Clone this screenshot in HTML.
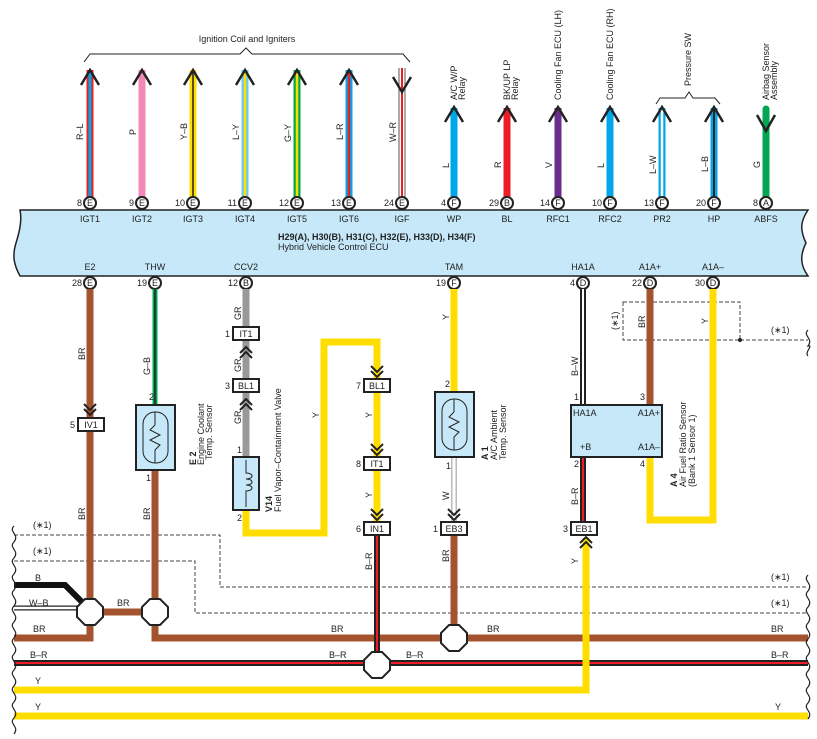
<!DOCTYPE html>
<html><head><meta charset="utf-8"><style>
body{margin:0;background:#fff}
svg{display:block;font-family:"Liberation Sans",sans-serif}
text{font-size:9px;fill:#222}
.b{font-weight:bold}
</style></head><body>
<svg width="817" height="739" viewBox="0 0 817 739" xmlns="http://www.w3.org/2000/svg">
<!-- top brace -->
<text x="247" y="42" text-anchor="middle">Ignition Coil and Igniters</text>
<path d="M84,62 L90,54 L240,54 L246,48 L252,54 L403,54 L410,62" fill="none" stroke="#222" stroke-width="1"/>
<!-- top wires -->
<g stroke-linecap="butt">
<line x1="90" y1="70" x2="90" y2="197" stroke="#ee1c25" stroke-width="7"/><line x1="90" y1="70" x2="90" y2="197" stroke="#00a6e8" stroke-width="3"/>
<line x1="142" y1="70" x2="142" y2="197" stroke="#f088b8" stroke-width="7"/>
<line x1="193" y1="70" x2="193" y2="197" stroke="#ffdd00" stroke-width="7"/><line x1="193" y1="70" x2="193" y2="197" stroke="#222" stroke-width="1.5"/>
<line x1="245" y1="70" x2="245" y2="197" stroke="#6cc8f0" stroke-width="7"/><line x1="245" y1="70" x2="245" y2="197" stroke="#ffdd00" stroke-width="2.5"/>
<line x1="297" y1="70" x2="297" y2="197" stroke="#00a651" stroke-width="7"/><line x1="297" y1="70" x2="297" y2="197" stroke="#ffdd00" stroke-width="2.5"/>
<line x1="349" y1="70" x2="349" y2="197" stroke="#00a6e8" stroke-width="7"/><line x1="349" y1="70" x2="349" y2="197" stroke="#ee1c25" stroke-width="2.5"/>
<line x1="402" y1="68" x2="402" y2="197" stroke="#555" stroke-width="7"/><line x1="402" y1="68" x2="402" y2="197" stroke="#fff" stroke-width="5"/><line x1="402" y1="68" x2="402" y2="197" stroke="#ee1c25" stroke-width="2"/>
<line x1="454" y1="108" x2="454" y2="197" stroke="#00a6e8" stroke-width="7"/>
<line x1="507" y1="108" x2="507" y2="197" stroke="#ee1c25" stroke-width="7"/>
<line x1="558" y1="108" x2="558" y2="197" stroke="#6a2d8f" stroke-width="7"/>
<line x1="610" y1="108" x2="610" y2="197" stroke="#00a6e8" stroke-width="7"/>
<line x1="662" y1="108" x2="662" y2="197" stroke="#00a6e8" stroke-width="7"/><line x1="662" y1="108" x2="662" y2="197" stroke="#fff" stroke-width="2.5"/>
<line x1="714" y1="108" x2="714" y2="197" stroke="#00a6e8" stroke-width="7"/><line x1="714" y1="108" x2="714" y2="197" stroke="#222" stroke-width="2"/>
<line x1="766" y1="109" x2="766" y2="197" stroke="#00a651" stroke-width="7" stroke-linecap="round"/>
</g>
<g fill="none" stroke="#222" stroke-width="2.5">
<polyline points="81,85 90,70 99,85"/><polyline points="133,85 142,70 151,85"/><polyline points="184,85 193,70 202,85"/><polyline points="236,85 245,70 254,85"/><polyline points="288,85 297,70 306,85"/><polyline points="340,85 349,70 358,85"/>
<polyline points="393,77 402,92 411,77"/>
<polyline points="445,122 454,107 463,122"/><polyline points="498,122 507,107 516,122"/><polyline points="549,122 558,107 567,122"/><polyline points="601,122 610,107 619,122"/><polyline points="653,122 662,107 671,122"/><polyline points="705,122 714,107 723,122"/>
<polyline points="757,115 766,131 775,115"/>
</g>
<!-- pressure brace -->
<path d="M656,104 L660,98 L685,98 L689,92 L693,98 L715,98 L720,104" fill="none" stroke="#222" stroke-width="1"/>
<g>
<text transform="translate(83,140) rotate(-90)">R–L</text>
<text transform="translate(136,135) rotate(-90)">P</text>
<text transform="translate(187,140) rotate(-90)">Y–B</text>
<text transform="translate(239,140) rotate(-90)">L–Y</text>
<text transform="translate(291,142) rotate(-90)">G–Y</text>
<text transform="translate(343,140) rotate(-90)">L–R</text>
<text transform="translate(396,142) rotate(-90)">W–R</text>
<text transform="translate(449,168) rotate(-90)">L</text>
<text transform="translate(501,168) rotate(-90)">R</text>
<text transform="translate(552,168) rotate(-90)">V</text>
<text transform="translate(604,168) rotate(-90)">L</text>
<text transform="translate(656,174) rotate(-90)">L–W</text>
<text transform="translate(708,172) rotate(-90)">L–B</text>
<text transform="translate(760,168) rotate(-90)">G</text>
<text transform="translate(457,100) rotate(-90)">A/C W/P</text><text transform="translate(465,100) rotate(-90)">Relay</text>
<text transform="translate(510,100) rotate(-90)">BK/UP LP</text><text transform="translate(518,100) rotate(-90)">Relay</text>
<text transform="translate(561,100) rotate(-90)">Cooling Fan ECU (LH)</text>
<text transform="translate(613,100) rotate(-90)">Cooling Fan ECU (RH)</text>
<text transform="translate(691,86) rotate(-90)">Pressure SW</text>
<text transform="translate(769,100) rotate(-90)">Airbag Sensor</text><text transform="translate(777,100) rotate(-90)">Assembly</text>
</g>
<!-- ECU box -->
<path d="M20,210 L808,210 C800,222 800,230 806,243 C800,255 800,265 808,276 L20,276 C14,265 12,256 16,243 C20,230 22,220 20,210 Z" fill="#c6e8f8" stroke="#222" stroke-width="1.5"/>
<g text-anchor="middle">
<text x="90" y="222">IGT1</text><text x="142" y="222">IGT2</text><text x="193" y="222">IGT3</text><text x="245" y="222">IGT4</text><text x="297" y="222">IGT5</text><text x="349" y="222">IGT6</text><text x="402" y="222">IGF</text><text x="454" y="222">WP</text><text x="507" y="222">BL</text><text x="558" y="222">RFC1</text><text x="610" y="222">RFC2</text><text x="662" y="222">PR2</text><text x="714" y="222">HP</text><text x="766" y="222">ABFS</text>
<text x="90" y="270">E2</text><text x="155" y="270">THW</text><text x="246" y="270">CCV2</text><text x="454" y="270">TAM</text><text x="583" y="270">HA1A</text><text x="650" y="270">A1A+</text><text x="713" y="270">A1A–</text>
</g>
<text x="278" y="240" class="b">H29(A), H30(B), H31(C), H32(E), H33(D), H34(F)</text>
<text x="278" y="250">Hybrid Vehicle Control ECU</text>
<!-- pins -->
<g fill="#fff" stroke="#222" stroke-width="2">
<circle cx="90" cy="203" r="6"/><circle cx="142" cy="203" r="6"/><circle cx="193" cy="203" r="6"/><circle cx="245" cy="203" r="6"/><circle cx="297" cy="203" r="6"/><circle cx="349" cy="203" r="6"/><circle cx="402" cy="203" r="6"/><circle cx="454" cy="203" r="6"/><circle cx="507" cy="203" r="6"/><circle cx="558" cy="203" r="6"/><circle cx="610" cy="203" r="6"/><circle cx="662" cy="203" r="6"/><circle cx="714" cy="203" r="6"/><circle cx="766" cy="203" r="6"/>
<circle cx="90" cy="283" r="6"/><circle cx="155" cy="283" r="6"/><circle cx="246" cy="283" r="6"/><circle cx="454" cy="283" r="6"/><circle cx="583" cy="283" r="6"/><circle cx="650" cy="283" r="6"/><circle cx="713" cy="283" r="6"/>
</g>
<g text-anchor="middle" style="font-size:8px">
<text x="90" y="206">E</text><text x="142" y="206">E</text><text x="193" y="206">E</text><text x="245" y="206">E</text><text x="297" y="206">E</text><text x="349" y="206">E</text><text x="402" y="206">E</text><text x="454" y="206">F</text><text x="507" y="206">B</text><text x="558" y="206">F</text><text x="610" y="206">F</text><text x="662" y="206">F</text><text x="714" y="206">F</text><text x="766" y="206">A</text>
<text x="90" y="286">E</text><text x="155" y="286">E</text><text x="246" y="286">B</text><text x="454" y="286">F</text><text x="583" y="286">D</text><text x="650" y="286">D</text><text x="713" y="286">D</text>
</g>
<g text-anchor="end">
<text x="82" y="206">8</text><text x="134" y="206">9</text><text x="185" y="206">10</text><text x="237" y="206">11</text><text x="289" y="206">12</text><text x="341" y="206">13</text><text x="394" y="206">24</text><text x="446" y="206">4</text><text x="499" y="206">29</text><text x="550" y="206">14</text><text x="602" y="206">10</text><text x="654" y="206">13</text><text x="706" y="206">20</text><text x="758" y="206">8</text>
<text x="82" y="286">28</text><text x="147" y="286">19</text><text x="238" y="286">12</text><text x="446" y="286">19</text><text x="575" y="286">4</text><text x="642" y="286">22</text><text x="705" y="286">30</text>
</g>
<!-- dashed lines -->
<g fill="none" stroke="#444" stroke-width="1" stroke-dasharray="4,2">
<polyline points="14,535 220,535 220,587 808,587"/>
<polyline points="14,561 195,561 195,613 808,613"/>
<rect x="623" y="302" width="117" height="38"/>
<line x1="740" y1="340" x2="808" y2="340"/>
</g>
<circle cx="740" cy="340" r="2" fill="#222"/>
<!-- bottom wires -->
<g fill="none" stroke-linejoin="miter">
<polyline points="90,289 90,638 14,638" stroke="#a4532f" stroke-width="7"/>
<line x1="90" y1="612" x2="155" y2="612" stroke="#a4532f" stroke-width="7"/>
<polyline points="155,470 155,638 808,638" stroke="#a4532f" stroke-width="7"/>
<line x1="155" y1="289" x2="155" y2="405" stroke="#00a651" stroke-width="5"/><line x1="155" y1="289" x2="155" y2="405" stroke="#222" stroke-width="1.5"/>
<line x1="246" y1="289" x2="246" y2="457" stroke="#999" stroke-width="7"/>
<polyline points="246,510 246,533 324,533 324,342 377,342 377,528" stroke="#ffdd00" stroke-width="7"/>
<polyline points="14,585 65,585 85,605" stroke="#111" stroke-width="6"/>
<line x1="14" y1="608" x2="80" y2="608" stroke="#222" stroke-width="5"/><line x1="14" y1="608" x2="80" y2="608" stroke="#fff" stroke-width="2.5"/>
<line x1="14" y1="663" x2="808" y2="663" stroke="#222" stroke-width="6"/><line x1="14" y1="663" x2="808" y2="663" stroke="#ee1c25" stroke-width="2"/>
<line x1="377" y1="535" x2="377" y2="663" stroke="#222" stroke-width="6"/><line x1="377" y1="535" x2="377" y2="663" stroke="#ee1c25" stroke-width="2"/>
<line x1="454" y1="289" x2="454" y2="392" stroke="#ffdd00" stroke-width="7"/>
<line x1="454" y1="457" x2="454" y2="522" stroke="#777" stroke-width="5"/><line x1="454" y1="457" x2="454" y2="522" stroke="#fff" stroke-width="3.5"/>
<line x1="454" y1="535" x2="454" y2="638" stroke="#a4532f" stroke-width="7"/>
<line x1="583" y1="289" x2="583" y2="405" stroke="#222" stroke-width="6"/><line x1="583" y1="289" x2="583" y2="405" stroke="#fff" stroke-width="2"/>
<line x1="583" y1="457" x2="583" y2="522" stroke="#222" stroke-width="6"/><line x1="583" y1="457" x2="583" y2="522" stroke="#ee1c25" stroke-width="2"/>
<polyline points="14,690 586,690 586,538" stroke="#ffdd00" stroke-width="7"/>
<line x1="14" y1="716" x2="808" y2="716" stroke="#ffdd00" stroke-width="7"/>
<line x1="650" y1="289" x2="650" y2="405" stroke="#a4532f" stroke-width="7"/>
<polyline points="713,289 713,520 650,520 650,457" stroke="#ffdd00" stroke-width="7"/>
</g>
<!-- connectors -->
<g fill="#fff" stroke="#222" stroke-width="2">
<rect x="78" y="418" width="26" height="13"/><rect x="233" y="327" width="26" height="13"/><rect x="233" y="379" width="26" height="13"/>
<rect x="364" y="379" width="26" height="13"/><rect x="364" y="457" width="26" height="13"/><rect x="364" y="522" width="26" height="13"/>
<rect x="441" y="522" width="26" height="13"/><rect x="571" y="522" width="26" height="13"/>
</g>
<g text-anchor="middle">
<text x="91" y="428">IV1</text><text x="246" y="337">IT1</text><text x="246" y="389">BL1</text><text x="377" y="389">BL1</text><text x="377" y="467">IT1</text><text x="377" y="532">IN1</text><text x="454" y="532">EB3</text><text x="584" y="532">EB1</text>
</g>
<g text-anchor="end">
<text x="75" y="428">5</text><text x="230" y="337">1</text><text x="230" y="389">3</text><text x="361" y="389">7</text><text x="361" y="467">8</text><text x="361" y="532">6</text><text x="438" y="532">1</text><text x="568" y="532">3</text>
</g>
<g fill="none" stroke="#222" stroke-width="2">
<polyline points="84,404 90,410 96,404"/><polyline points="84,409 90,415 96,409"/>
<polyline points="240,353 246,347 252,353"/><polyline points="240,358 246,352 252,358"/>
<polyline points="240,405 246,399 252,405"/><polyline points="240,410 246,404 252,410"/>
<polyline points="371,366 377,372 383,366"/><polyline points="371,371 377,377 383,371"/>
<polyline points="371,444 377,450 383,444"/><polyline points="371,449 377,455 383,449"/>
<polyline points="371,509 377,515 383,509"/><polyline points="371,514 377,520 383,514"/>
<polyline points="448,509 454,515 460,509"/><polyline points="448,514 454,520 460,514"/>
<polyline points="580,543 586,537 592,543"/><polyline points="580,548 586,542 592,548"/>
</g>
<!-- components -->
<g stroke="#222" stroke-width="2" fill="#c6e8f8">
<rect x="136" y="405" width="39" height="65"/>
<rect x="233" y="457" width="26" height="53"/>
<rect x="435" y="392" width="39" height="65"/>
<rect x="571" y="405" width="91" height="52"/>
</g>
<g fill="none" stroke="#222" stroke-width="1">
<rect x="143" y="412" width="25" height="51" rx="12"/><line x1="155" y1="412" x2="155" y2="425"/><polyline points="155,425 150,430 160,435 150,440 160,445 155,450"/><line x1="155" y1="450" x2="155" y2="463"/>
<rect x="442" y="399" width="25" height="51" rx="12"/><line x1="454" y1="399" x2="454" y2="412"/><polyline points="454,412 449,417 459,422 449,427 459,432 454,437"/><line x1="454" y1="437" x2="454" y2="450"/>
<path d="M246,460 L246,473 C254,473 254,479 246,479 C254,479 254,485 246,485 C254,485 254,491 246,491 L246,507"/>
</g>
<!-- octagons -->
<g fill="#fff" stroke="#222" stroke-width="2">
<polygon points="85,599 95,599 103,607 103,617 95,625 85,625 77,617 77,607"/>
<polygon points="150,599 160,599 168,607 168,617 160,625 150,625 142,617 142,607"/>
<polygon points="449,625 459,625 467,633 467,643 459,651 449,651 441,643 441,633"/>
<polygon points="372,652 382,652 390,660 390,670 382,678 372,678 364,670 364,660"/>
</g>
<!-- bottom labels -->
<g>
<text transform="translate(85,360) rotate(-90)">BR</text>
<text transform="translate(85,520) rotate(-90)">BR</text>
<text transform="translate(150,375) rotate(-90)">G–B</text>
<text transform="translate(150,520) rotate(-90)">BR</text>
<text transform="translate(241,320) rotate(-90)">GR</text>
<text transform="translate(241,372) rotate(-90)">GR</text>
<text transform="translate(241,424) rotate(-90)">GR</text>
<text transform="translate(319,418) rotate(-90)">Y</text>
<text transform="translate(372,418) rotate(-90)">Y</text>
<text transform="translate(372,498) rotate(-90)">Y</text>
<text transform="translate(372,570) rotate(-90)">B–R</text>
<text transform="translate(449,320) rotate(-90)">Y</text>
<text transform="translate(449,500) rotate(-90)">W</text>
<text transform="translate(449,562) rotate(-90)">BR</text>
<text transform="translate(578,376) rotate(-90)">B–W</text>
<text transform="translate(578,505) rotate(-90)">B–R</text>
<text transform="translate(578,564) rotate(-90)">Y</text>
<text transform="translate(645,328) rotate(-90)">BR</text>
<text transform="translate(708,324) rotate(-90)">Y</text>
<text transform="translate(618,330) rotate(-90)">(∗1)</text>
<text transform="translate(196,465) rotate(-90)" class="b">E 2</text>
<text transform="translate(204,465) rotate(-90)">Engine Coolant</text><text transform="translate(212,460) rotate(-90)">Temp.  Sensor</text>
<text transform="translate(272,512) rotate(-90)" class="b">V14</text>
<text transform="translate(281,512) rotate(-90)">Fuel Vapor–Containment Valve</text>
<text transform="translate(488,460) rotate(-90)" class="b">A 1</text>
<text transform="translate(497,460) rotate(-90)">A/C Ambient</text><text transform="translate(506,460) rotate(-90)">Temp.  Sensor</text>
<text transform="translate(677,487) rotate(-90)" class="b">A 4</text>
<text transform="translate(686,487) rotate(-90)">Air Fuel Ratio Sensor</text><text transform="translate(695,487) rotate(-90)">(Bank 1 Sensor 1)</text>
</g>
<text x="573" y="416">HA1A</text><text x="660" y="416" text-anchor="end">A1A+</text>
<text x="580" y="450">+B</text><text x="660" y="450" text-anchor="end">A1A–</text>
<text x="149" y="400">2</text><text x="146" y="481">1</text><text x="237" y="453">1</text><text x="237" y="521">2</text>
<text x="445" y="387">2</text><text x="446" y="469">1</text><text x="574" y="400">1</text><text x="574" y="467">2</text><text x="640" y="400">3</text><text x="640" y="467">4</text>
<text x="33" y="528">(∗1)</text><text x="33" y="554">(∗1)</text>
<text x="35" y="581">B</text><text x="29" y="606">W–B</text><text x="33" y="632">BR</text><text x="117" y="606">BR</text>
<text x="30" y="658">B–R</text><text x="35" y="684">Y</text><text x="35" y="710">Y</text>
<text x="331" y="632">BR</text><text x="487" y="632">BR</text><text x="771" y="632">BR</text>
<text x="329" y="658">B–R</text><text x="406" y="658">B–R</text><text x="771" y="658">B–R</text>
<text x="775" y="710">Y</text>
<text x="771" y="580">(∗1)</text><text x="771" y="606">(∗1)</text><text x="771" y="333">(∗1)</text>
<!-- squiggles -->
<g fill="none" stroke="#222" stroke-width="1.2">
<path d="M14,526 c-6,6 6,8 0,16 c-6,6 6,8 0,16 c-6,6 6,8 0,16 c-6,6 6,8 0,16 c-6,6 6,8 0,16 c-6,6 6,8 0,16 c-6,6 6,8 0,16 c-6,6 6,8 0,16 c-6,6 6,8 0,16 c-6,6 6,8 0,16 c-6,6 6,8 0,16 c-6,6 6,8 0,16 c-6,6 6,8 0,16"/>
<path d="M808,330 c-6,6 6,8 0,16 c6,-1 -4,6 0,10"/>
<path d="M808,575 c-6,6 6,8 0,16 c-6,6 6,8 0,16 c-6,6 6,8 0,16 c-6,6 6,8 0,16 c-6,6 6,8 0,16 c-6,6 6,8 0,16 c-6,6 6,8 0,16 c-6,6 6,8 0,16 c-6,6 6,8 0,16"/>
</g>
</svg>
</body></html>
